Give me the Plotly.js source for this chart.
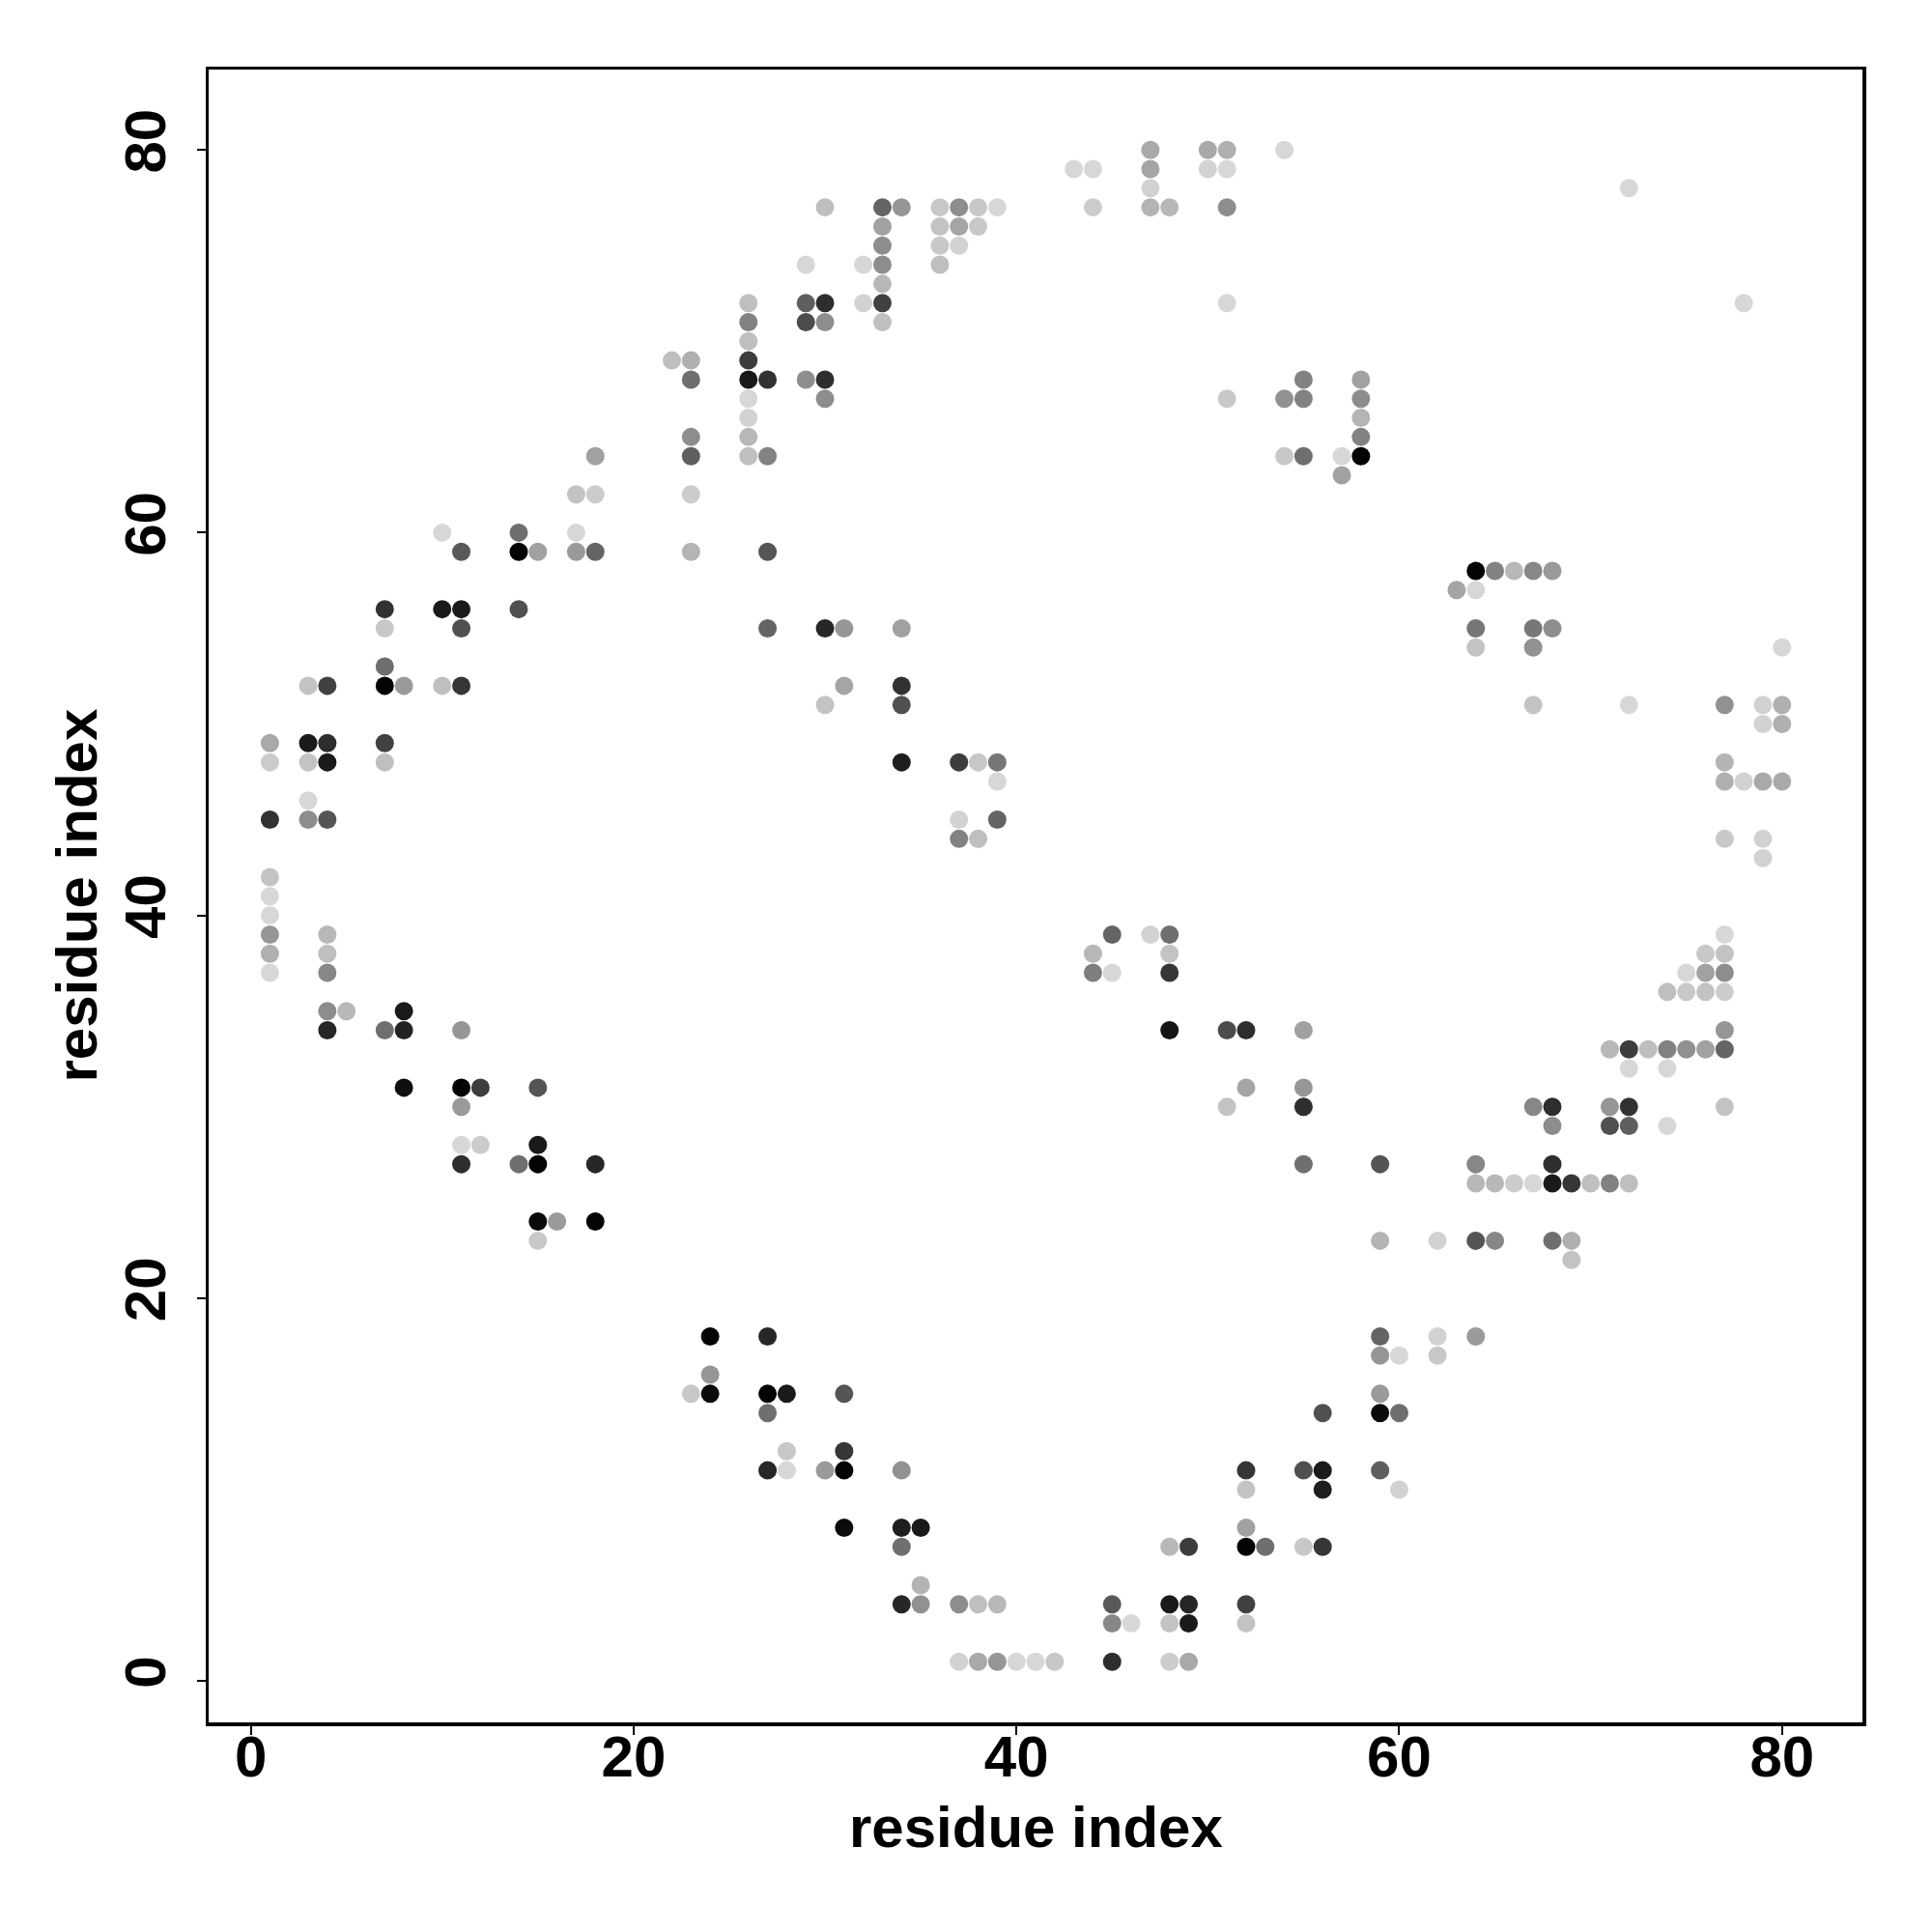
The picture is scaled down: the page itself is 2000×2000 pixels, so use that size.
<!DOCTYPE html>
<html>
<head>
<meta charset="utf-8">
<script src="https://cdn.plot.ly/plotly-3.0.1.min.js"></script>
<style>html,body{margin:0;padding:0;background:#fff;}</style>
</head>
<body>
<div id="chart" style="width:2000px;height:2000px;"></div>
<script>
// residue i (x), residue j (y), contact probability (drawn as grey level)
const resI = [
  26,26,26,26,26,26,26,26,26, 22,23,23,23,23,23,23, 18,17,18, 10,14,17, 11,14,15,17,18, 7,7,10,11,11,14,
  47,50,51, 43,44,47,50,51, 47, 30,33,34,36,37,38,39,44,47,48,51, 33,36,37,38, 33,36,37, 29,32,33,36, 33,
  29,30,32,33,51, 29,30,33, 27,29,30, 30,51, 27, 27, 27,30,31,34,
  54,72,78, 55,58, 54,55,58, 58,58, 54,55,57,58, 57, 64,65,66,67,68, 63,64, 64,67,68, 64,67,80,
  7, 3,4,7,8,10,11, 1,3,4,7, 1,3,4,7, 3, 1,3,4, 1,1,1, 1,4, 1,4, 1,4, 4,5,8, 4,7,8,11, 8,11,12,15, 11,
  11,12,15, 11,14,15,18,
  31,34, 30,34, 34,37,38,39, 39, 37,39, 37,38, 45,47,48, 44,48, 44,45,48, 48,51,52, 52, 51,
  67,72,77,79,80, 79,80, 77, 77,78,79,80, 77,79, 79, 77, 76,77, 75,76,77, 74,75,76,77, 55,77,
  71,72,73,74,75,76,77, 72,74, 55, 55,67,68,71,72,77, 68,71,72,74, 55,59,64,68,
  64,65,66,67,68,69,70,71,72, 59,62,64,65,68,69, 69, 59,62,64, 59,60,62, 59, 56,59,60, 55,56,59, 56,60, 55,56,
  15,16,18, 15, 24, 24, 23,24,
  27, 27,28,31, 27, 28,31, 27,28,30,31,34,52, 52, 31,34,35,52, 34,48,49,52,53, 35,
  34,35,37,38,39,45,48,49,52, 45,46,48,49,52, 37,38,39,40,41,42,45,48,49
];
const resJ = [
  72,71,70,69,68,67,66,65,64, 69,69,68,65,64,62,59, 64,62,62, 60,60,60, 59,59,59,59,59, 56,55,56,56,55,56,
  80,80,80, 79,79,79,79,79, 78, 77,77,77,77,77,77,77,77,77,77,77, 76,76,76,76, 75,75,75, 74,74,74,74, 73,
  72,72,72,72,72, 71,71,71, 68,68,68, 67,67, 64, 59, 55,55,55,55,
  80,78,72, 68,68, 67,67,67, 66,65, 64,64,64,64, 63, 58,58,58,58,58, 57,57, 55,55,55, 54,54,54,
  53, 52,52,52,52,52,52, 49,49,49,49, 48,48,48,48, 46, 45,45,45, 42,41,40, 39,39, 38,38, 37,37, 35,35,35, 34,34,34,34, 31,31,31,31, 30,
  28,28,28, 27,27,27,27,
  52,52, 51,51, 48,48,48,48, 47, 45,45, 44,44, 39,39,39, 38,38, 37,37,37, 34,34,34, 31, 30,
  51,51,51,51,51, 50,50, 48, 47,47,47,47, 44,44, 43, 39, 38,38, 37,37,37, 36,36,36,36, 34,34,
  33,33,33,33,33,33,33, 32,32, 31, 30,30,30,30,30,30, 29,29,29,29, 27,27,27,27,
  26,26,26,26,26,26,26,26,26, 23,23,23,23,23,23, 22, 18,18,18, 17,17,17, 15, 14,14,14, 11,11,11, 10,10, 7,7,
  24,24,24, 23, 18, 16, 15,15,
  18, 15,15,15, 14, 12,12, 11,11,11,11,11,11, 10, 8,8,8,8, 7,7,7,7,7, 5,
  4,4,4,4,4,4,4,4,4, 3,3,3,3,3, 1,1,1,1,1,1,1,1,1
];
const contactProb = [
  0.12,0.40,0.12,0.72,0.88,0.01,0.03,0.15,0.12, 0.12,0.19,0.49,0.35,0.56,0.06,0.17, 0.26,0.10,0.06, 0.01,0.49,0.01, 0.59,0.98,0.26,0.29,0.54, 0.77,0.08,0.88,0.88,0.63,0.63,
  0.22,0.22,0.19, 0.01,0.01,0.24,0.03,0.01, 0.03, 0.12,0.54,0.31,0.08,0.35,0.08,0.01,0.06,0.17,0.15,0.35, 0.26,0.10,0.24,0.08, 0.35,0.08,0.03, 0.01,0.01,0.35,0.12, 0.15,
  0.56,0.79,0.03,0.70,0.01, 0.65,0.35,0.12, 0.77,0.35,0.79, 0.35,0.08, 0.40, 0.61, 0.54,0.82,0.31,0.26,
  0.01,0.01,0.01, 0.40,0.26, 0.33,0.40,0.35, 0.17,0.40, 0.08,0.49,0.01,0.98, 0.26, 0.98,0.40,0.15,0.38,0.29, 0.24,0.01, 0.45,0.45,0.35, 0.10,0.33,0.01,
  0.49, 0.10,0.70,0.98,0.29,0.12,0.75, 0.22,0.88,0.79,0.70, 0.06,0.10,0.88,0.12, 0.01, 0.77,0.35,0.61, 0.10,0.01,0.01, 0.31,0.15, 0.19,0.12, 0.01,0.38, 0.35,0.15,0.88, 0.82,0.49,0.84,0.31, 0.93,0.98,0.72,0.61, 0.29,
  0.01,0.06,0.88, 0.79,0.49,0.98,0.82,
  0.24,0.77, 0.10,0.63, 0.86,0.72,0.08,0.45, 0.01, 0.03,0.54, 0.40,0.12, 0.54,0.03,0.49, 0.15,0.10, 0.42,0.01,0.75, 0.91,0.65,0.79, 0.24, 0.10,
  0.10,0.01,0.33,0.03,0.19, 0.03,0.19, 0.17, 0.19,0.03,0.22,0.22, 0.08,0.03, 0.03, 0.01, 0.08,0.10, 0.01,0.26,0.35, 0.12,0.08,0.10,0.06, 0.26,0.31,
  0.15,0.72,0.12,0.40,0.33,0.26,0.54, 0.01,0.01, 0.31, 0.79,0.38,0.79,0.31,0.77,0.10, 0.35,0.63,0.56,0.01, 0.49,0.61,0.38,0.79,
  0.15,0.15,0.06,0.01,0.88,0.75,0.12,0.40,0.12, 0.17,0.03,0.61,0.38,0.49,0.19, 0.10, 0.54,0.03,0.29, 0.31,0.01,0.08, 0.29, 0.63,0.95,0.49, 0.63,0.88,0.56, 0.86,0.03, 0.08,0.75,
  0.95,0.29,0.98, 0.08, 0.98, 0.31, 0.08,0.95,
  0.82, 0.98,0.88,0.61, 0.49, 0.08,0.75, 0.82,0.01,0.29,0.98,0.33,0.75, 0.10, 0.95,0.86,0.88,0.26, 0.49,0.15,0.72,0.98,0.49, 0.17,
  0.82,0.33,0.35,0.12,0.15,0.59,0.88,0.82,0.70, 0.38,0.01,0.10,0.88,0.10, 0.03,0.22,0.31,0.01,0.01,0.08,0.79,0.06,0.22
];
const tickVals = [0, 20, 40, 60, 80];
const tickLabels = ['0', '20', '40', '60', '80'];
const axisLabel = 'residue index';

const font = {family: 'Liberation Sans, Arial, sans-serif', size: 60, color: '#000', weight: 'bold'};

const trace = {
  type: 'scatter',
  mode: 'markers',
  x: resI,
  y: resJ,
  marker: {
    size: 19,
    color: contactProb,
    cmin: 0,
    cmax: 1,
    colorscale: [[0, 'rgb(217,217,217)'], [1, 'rgb(0,0,0)']],
    showscale: false,
    line: {width: 0}
  },
  hoverinfo: 'x+y'
};

const axisCommon = {
  showgrid: false,
  zeroline: false,
  showline: true,
  mirror: true,
  linecolor: '#000',
  linewidth: 3.5,
  ticks: 'outside',
  ticklen: 9,
  tickwidth: 2,
  tickcolor: '#000',
  tickvals: tickVals,
  ticktext: tickLabels,
  tickfont: font
};

const layout = {
  width: 2000,
  height: 2000,
  paper_bgcolor: '#fff',
  plot_bgcolor: '#fff',
  showlegend: false,
  margin: {l: 216, r: 72, t: 72, b: 217, pad: 0},
  xaxis: Object.assign({}, axisCommon, {
    range: [-2.2, 84.2],
    ticklabelstandoff: -29
  }),
  yaxis: Object.assign({}, axisCommon, {
    range: [-2.17, 84.2],
    tickangle: -90,
    ticklabelstandoff: 9
  }),
  annotations: [
    {text: axisLabel, font: font, showarrow: false, xref: 'paper', yref: 'paper',
     x: 0.5, y: -0.0635, xanchor: 'center', yanchor: 'middle'},
    {text: axisLabel, font: font, showarrow: false, xref: 'paper', yref: 'paper',
     x: -0.08, y: 0.5, xanchor: 'center', yanchor: 'middle', textangle: -90}
  ]
};

Plotly.newPlot('chart', [trace], layout, {displayModeBar: false, staticPlot: true});
</script>
</body>
</html>
